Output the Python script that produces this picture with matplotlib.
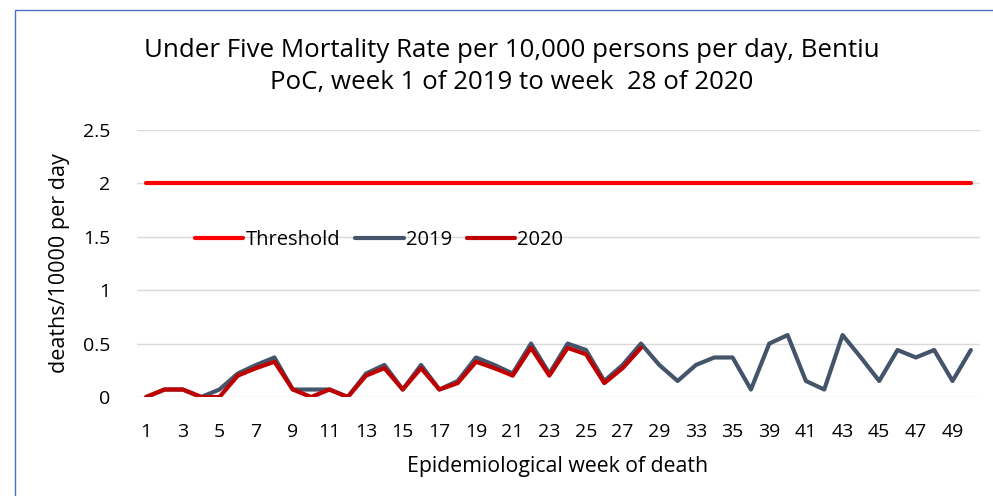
import matplotlib
matplotlib.use("Agg")
import matplotlib.pyplot as plt
from matplotlib.patches import Rectangle

# weeks shown on the category axis (some weeks have no data row)
weeks = list(range(1, 30)) + [30, 33, 34, 35, 36] + list(range(39, 51))

# under five mortality rate, deaths/10000 per day
rate_2019 = [0, 0.07, 0.07, 0, 0.07, 0.22, 0.3, 0.37, 0.07, 0.07,
             0.07, 0, 0.22, 0.3, 0.07, 0.3, 0.07, 0.15, 0.37, 0.3,
             0.22, 0.5, 0.22, 0.5, 0.44, 0.15, 0.3, 0.5, 0.3, 0.15,
             0.3, 0.37, 0.37, 0.07, 0.5, 0.58, 0.15, 0.07, 0.58, 0.37,
             0.15, 0.44, 0.37, 0.44, 0.15, 0.44]
rate_2020 = [0, 0.07, 0.07, 0, 0, 0.2, 0.27, 0.33, 0.07, 0,
             0.07, 0, 0.2, 0.27, 0.07, 0.27, 0.07, 0.13, 0.33, 0.27,
             0.2, 0.46, 0.2, 0.46, 0.4, 0.13, 0.27, 0.46]
threshold = [2] * len(weeks)

plt.rcParams["font.family"] = ["Open Sans", "DejaVu Sans"]

fig = plt.figure(figsize=(9.93, 4.96), dpi=100)
ax = fig.add_axes([137 / 993, 99 / 496, 843 / 993, 267 / 496])

x = list(range(len(weeks)))
ax.plot(x, threshold, color="#FF0000", lw=3, label="Threshold", solid_capstyle="round")
ax.plot(x, rate_2019, color="#44546A", lw=3, label="2019", solid_capstyle="round")
ax.plot(x[:len(rate_2020)], rate_2020, color="#C00000", lw=3, label="2020", solid_capstyle="round")

ax.set_xlim(-0.5, len(weeks) - 0.5)
ax.set_ylim(0, 2.5)
ax.set_yticks([0, 0.5, 1, 1.5, 2, 2.5])
ax.set_yticklabels(["0", "0.5", "1", "1.5", "2", "2.5"])
ax.set_xticks(x[::2])
ax.set_xticklabels([str(w) for w in weeks[::2]])
ax.tick_params(axis="both", length=0, labelsize=14, colors="black")
ax.tick_params(axis="y", pad=19)
ax.tick_params(axis="x", pad=19)
ax.grid(axis="y", color="#D9D9D9", lw=1)
ax.set_axisbelow(True)
for s in ax.spines.values():
    s.set_visible(False)

ax.set_ylabel("deaths/10000 per day", fontsize=15.5)
ax.yaxis.set_label_coords(-0.079, 0.502)
ax.set_xlabel("Epidemiological week of death", fontsize=15.3)
ax.xaxis.set_label_coords(0.4994, -0.222)

fig.text(0.515, 0.866, "Under Five Mortality Rate per 10,000 persons per day, Bentiu\nPoC, week 1 of 2019 to week  28 of 2020",
         ha="center", va="center", fontsize=18.6, linespacing=1.33)

ax.legend(loc="center left", bbox_to_anchor=(0.057, 0.588), ncol=3, frameon=False,
          fontsize=14.5, handlelength=2.4, handletextpad=0.1, columnspacing=0.75, borderpad=0)

# chart frame
fig.add_artist(Rectangle((15 / 993, -0.1), 2, (486 / 496) + 0.1, transform=fig.transFigure,
                         fill=False, edgecolor="#4472C4", lw=1))

fig.savefig("out.png", dpi=100)
